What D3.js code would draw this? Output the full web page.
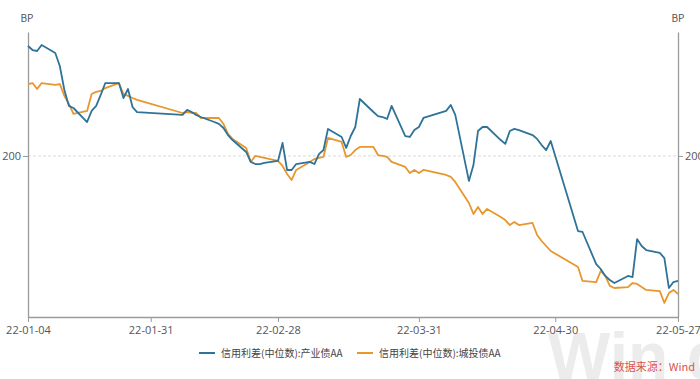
<!DOCTYPE html>
<html><head><meta charset="utf-8">
<script src="https://cdn.jsdelivr.net/npm/d3@7"></script>
<style>body{margin:0;background:#fff;}svg{display:block;font-family:"Microsoft YaHei","Noto Sans CJK SC","Open Sans",sans-serif;}</style>
</head><body>
<svg id="c" width="700" height="379"></svg>
<script>
const dates = ["2022-01-04","2022-01-05","2022-01-06","2022-01-07","2022-01-10","2022-01-11","2022-01-12","2022-01-13","2022-01-14","2022-01-17","2022-01-18","2022-01-19","2022-01-20","2022-01-21","2022-01-24","2022-01-25","2022-01-26","2022-01-27","2022-01-28",
"2022-02-07","2022-02-08","2022-02-09","2022-02-10","2022-02-11","2022-02-14","2022-02-15","2022-02-16","2022-02-17","2022-02-18","2022-02-21","2022-02-22","2022-02-23","2022-02-24","2022-02-25","2022-02-28",
"2022-03-01","2022-03-02","2022-03-03","2022-03-04","2022-03-07","2022-03-08","2022-03-09","2022-03-10","2022-03-11","2022-03-14","2022-03-15","2022-03-16","2022-03-17","2022-03-18","2022-03-21","2022-03-22","2022-03-23","2022-03-24","2022-03-25","2022-03-28","2022-03-29","2022-03-30","2022-03-31",
"2022-04-01","2022-04-06","2022-04-07","2022-04-08","2022-04-11","2022-04-12","2022-04-13","2022-04-14","2022-04-15","2022-04-18","2022-04-19","2022-04-20","2022-04-21","2022-04-22","2022-04-25","2022-04-26","2022-04-27","2022-04-28","2022-04-29",
"2022-05-05","2022-05-06","2022-05-09","2022-05-10","2022-05-11","2022-05-12","2022-05-13","2022-05-16","2022-05-17","2022-05-18","2022-05-19","2022-05-20","2022-05-23","2022-05-24","2022-05-25","2022-05-26","2022-05-27"];

const industrialAA = [268.3,265.8,265.2,268.9,264.0,255.9,241.0,231.1,229.8,221.1,228.0,231.1,237.9,245.3,245.3,236.0,241.6,230.4,227.3,
225.5,228.6,227.3,225.5,224.2,221.1,219.9,217.4,213.0,209.9,202.5,196.3,195.0,195.0,195.7,196.9,
208.1,191.3,191.3,195.0,196.3,195.0,201.2,203.7,216.8,211.8,205.0,212.4,218.0,235.4,227.3,224.8,224.2,223.0,231.1,212.4,211.8,216.1,218.0,
223.6,228.0,231.7,225.5,184.5,194.4,215.5,218.0,218.0,209.9,207.5,215.5,216.8,216.1,213.0,210.6,206.8,203.7,209.3,
153.4,152.8,132.9,129.8,125.5,123.0,121.1,125.5,124.8,148.4,144.1,141.6,139.8,136.6,118.0,121.7,122.4];

const chengtouAA = [244.7,245.3,241.6,245.3,244.1,244.7,237.3,232.3,226.1,228.0,238.5,239.8,240.4,242.2,245.3,238.5,237.3,236.0,234.8,
226.7,227.3,226.7,226.7,223.6,223.6,223.6,219.9,213.7,210.6,205.0,196.3,200.0,199.4,198.8,196.9,
193.8,188.8,185.1,191.3,196.3,198.1,198.8,199.4,211.2,208.7,199.4,200.6,203.7,205.6,205.6,200.6,200.0,199.4,196.3,193.2,189.4,191.3,189.4,
191.3,188.2,187.0,183.9,170.8,164.0,168.3,164.0,167.1,162.1,160.2,157.1,159.0,157.1,158.4,150.9,147.2,144.1,141.0,
131.1,122.4,121.7,128.6,125.5,119.3,118.0,118.6,121.1,120.5,118.6,116.8,116.1,108.7,114.9,116.8,114.3];

const xTickLabels = ["22-01-04","22-01-31","22-02-28","22-03-31","22-04-30","22-05-27"];
const yTicks = [200];
const seriesNames = ["信用利差(中位数):产业债AA","信用利差(中位数):城投债AA"];
const colors = ["#2f7399","#e8972c"];

const parse = d3.timeParse("%Y-%m-%d");
const parseTick = d3.timeParse("%y-%m-%d");
const dd = dates.map(parse);
const svg = d3.select("#c");

const x = d3.scaleTime().domain([dd[0], dd[dd.length-1]]).range([28, 678]);
const y = d3.scaleLinear().domain([100, 277]).range([317, 32]);

// watermark
svg.append("text").attr("x", 548).attr("y", 379).attr("font-size", 66).attr("font-weight", "bold")
  .attr("fill", "#ececec").attr("font-family", "Arial, Liberation Sans, sans-serif").text("Win d");

// gridline
svg.append("g").selectAll("line").data(yTicks).join("line")
  .attr("x1", 28).attr("x2", 678).attr("y1", d => y(d)).attr("y2", d => y(d))
  .attr("stroke", "#dcdcdc").attr("stroke-dasharray", "3,2");

// axes
const axisColor = "#9a9a9a";
const leftAxis = svg.append("g").attr("transform", "translate(28,0)")
  .call(d3.axisLeft(y).tickValues(yTicks).tickSize(5).tickPadding(2).tickSizeOuter(0));
const rightAxis = svg.append("g").attr("transform", "translate(678,0)")
  .call(d3.axisRight(y).tickValues(yTicks).tickSize(5).tickPadding(2).tickSizeOuter(0));
const bottomAxis = svg.append("g").attr("transform", "translate(0,317)")
  .call(d3.axisBottom(x).tickValues(xTickLabels.map(parseTick)).tickFormat(d3.timeFormat("%y-%m-%d")).tickSize(5).tickPadding(4).tickSizeOuter(0));
[leftAxis, rightAxis, bottomAxis].forEach(g => {
  g.select(".domain").attr("stroke", axisColor).attr("stroke-width", 1.3);
  g.selectAll(".tick line").attr("stroke", axisColor);
  g.selectAll(".tick text").attr("fill", "#555").attr("font-size", 11)
    .attr("font-family", "'Open Sans','Noto Sans',sans-serif");
});

// unit labels
svg.append("text").attr("x", 27).attr("y", 22).attr("text-anchor", "middle").attr("font-size", 10).attr("fill", "#555").text("BP");
svg.append("text").attr("x", 678).attr("y", 22).attr("text-anchor", "middle").attr("font-size", 10).attr("fill", "#555").text("BP");

// lines
const line = d3.line().x((d, i) => x(dd[i])).y(d => y(d));
[industrialAA, chengtouAA].slice().reverse().forEach((s, j) => {
  const i = 1 - j;
  svg.append("path").datum(s).attr("d", line).attr("fill", "none")
    .attr("stroke", colors[i]).attr("stroke-width", 1.8).attr("stroke-linejoin", "round");
});

// legend
const legX = [199, 357];
seriesNames.forEach((n, i) => {
  svg.append("line").attr("x1", legX[i]).attr("x2", legX[i] + 16).attr("y1", 353).attr("y2", 353)
    .attr("stroke", colors[i]).attr("stroke-width", 2);
  svg.append("text").attr("x", legX[i] + 22).attr("y", 357).attr("font-size", 10).attr("fill", "#444").text(n);
});

// source
svg.append("text").attr("x", 695).attr("y", 371).attr("text-anchor", "end").attr("font-size", 11)
  .attr("fill", "#d9534f").text("数据来源：Wind");
</script>
</body></html>
